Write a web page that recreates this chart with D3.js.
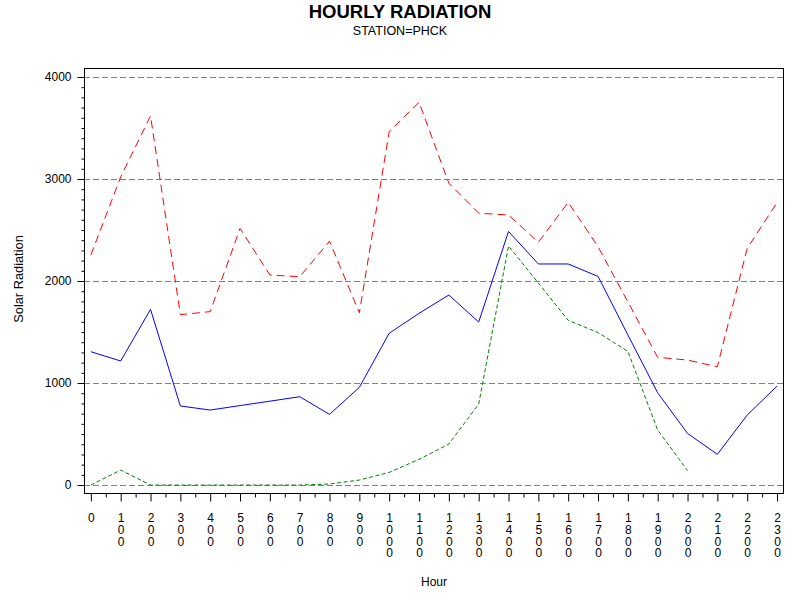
<!DOCTYPE html>
<html>
<head>
<meta charset="utf-8">
<script src="https://cdn.jsdelivr.net/npm/d3@7"></script>
<style>
  html, body { margin: 0; padding: 0; background: #ffffff; }
  svg { display: block; font-family: "Liberation Sans", Arial, Helvetica, sans-serif; }
</style>
</head>
<body>
<svg id="chart" width="800" height="600"></svg>
<script>
// ---- data ----
const hours = [0, 100, 200, 300, 400, 500, 600, 700, 800, 900, 1000, 1100,
               1200, 1300, 1400, 1500, 1600, 1700, 1800, 1900, 2000, 2100, 2200, 2300];
const maxRadiation  = [2255, 3020, 3618, 1670, 1700, 2516, 2059, 2042, 2390, 1688, 3464, 3752,
                       2958, 2665, 2647, 2380, 2771, 2337, 1795, 1252, 1225, 1160, 2320, 2768];
const meanRadiation = [1307, 1216, 1722, 775, 735, 779, 822, 866, 693, 958, 1488, 1683,
                       1863, 1598, 2486, 2167, 2167, 2045, 1472, 904, 506, 301, 686, 970];
const minRadiation  = [0, 147, 0, 0, 0, 0, 0, 0, 10, 49, 124, 252,
                       402, 794, 2343, 1980, 1615, 1495, 1310, 539, 141, null, null, null];
const yMajorTicks = [0, 1000, 2000, 3000, 4000];
const xTickLabels = hours.map(h => String(h));
const titleText = "HOURLY RADIATION";
const subtitleText = "STATION=PHCK";
const xLabel = "Hour";
const yLabel = "Solar Radiation";

// ---- layout ----
const svg = d3.select("#chart");
const L = 84, R = 783, T = 68, B = 493;

const x = d3.scaleLinear().domain([-23, 2320]).range([L, R]);
const y = d3.scaleLinear().domain([-78, 4088]).range([B, T]);

// titles
svg.append("text").attr("x", 400).attr("y", 17.5).attr("text-anchor", "middle")
  .attr("font-size", "18.5px").attr("font-weight", "bold").attr("fill", "#000")
  .text(titleText);
svg.append("text").attr("x", 400).attr("y", 35).attr("text-anchor", "middle")
  .attr("font-size", "12.5px").attr("fill", "#000")
  .text(subtitleText);

// grid lines
svg.append("g").selectAll("line").data(yMajorTicks).join("line")
  .attr("x1", L).attr("x2", R)
  .attr("y1", d => Math.round(y(d)) + 0.5).attr("y2", d => Math.round(y(d)) + 0.5)
  .attr("stroke", "#808080").attr("stroke-width", 1).attr("stroke-dasharray", "6,3");

// series lines
const lineGen = d3.line()
  .defined(d => d.v !== null)
  .x(d => x(d.h)).y(d => y(d.v));
const series = [
  { values: maxRadiation,  color: "#ff0000", dash: "8,5" },
  { values: meanRadiation, color: "#0000ff", dash: null },
  { values: minRadiation,  color: "#008000", dash: "4,2.5" }
];
const plotG = svg.append("g");
series.forEach(s => {
  const pts = hours.map((h, i) => ({ h: h, v: s.values[i] }));
  plotG.append("path").datum(pts)
    .attr("d", lineGen)
    .attr("fill", "none")
    .attr("stroke", s.color)
    .attr("stroke-width", 1)
    .attr("stroke-dasharray", s.dash);
});

// frame
svg.append("rect").attr("x", L + 0.5).attr("y", T + 0.5)
  .attr("width", R - L).attr("height", B - T)
  .attr("fill", "none").attr("stroke", "#000").attr("stroke-width", 1);

// y axis
const yMinor = d3.range(0, 4001, 100).filter(v => v % 1000 !== 0);
const yAxisMinor = d3.axisLeft(y).tickValues(yMinor).tickSize(3).tickFormat("");
const yAxis = d3.axisLeft(y).tickValues(yMajorTicks).tickSize(7).tickPadding(6).tickFormat(d3.format("d"));
const gyMinor = svg.append("g").attr("transform", `translate(${L + 0.5},0)`).call(yAxisMinor);
const gy = svg.append("g").attr("transform", `translate(${L + 0.5},0)`).call(yAxis);
[gyMinor, gy].forEach(g => {
  g.select(".domain").remove();
  g.selectAll("line").attr("stroke", "#000");
});
gy.selectAll("text").attr("font-size", "12px").attr("fill", "#000")
  .attr("font-family", "'Liberation Sans', Arial, sans-serif");

// x axis
const xMinor = d3.range(50, 2300, 100);
const xAxisMinor = d3.axisBottom(x).tickValues(xMinor).tickSize(4).tickFormat("");
const xAxis = d3.axisBottom(x).tickValues(hours).tickSize(8).tickFormat((d, i) => xTickLabels[i]);
const gxMinor = svg.append("g").attr("transform", `translate(0,${B + 0.5})`).call(xAxisMinor);
const gx = svg.append("g").attr("transform", `translate(0,${B + 0.5})`).call(xAxis);
[gxMinor, gx].forEach(g => {
  g.select(".domain").remove();
  g.selectAll("line").attr("stroke", "#000");
});
// stacked tick labels: one character per line
gx.selectAll("text").each(function() {
  const t = d3.select(this);
  const str = t.text();
  t.text(null).attr("y", 0).attr("dy", null)
    .attr("font-size", "12px").attr("fill", "#000")
    .attr("font-family", "'Liberation Sans', Arial, sans-serif");
  str.split("").forEach((ch, k) => {
    t.append("tspan").attr("x", 0).attr("y", 28.5 + k * 11.8).text(ch);
  });
});

// axis labels
svg.append("text").attr("x", 434).attr("y", 586).attr("text-anchor", "middle")
  .attr("font-size", "12px").attr("fill", "#000").text(xLabel);
svg.append("text").attr("transform", "translate(22.5,279) rotate(-90)")
  .attr("text-anchor", "middle").attr("font-size", "12.8px").attr("fill", "#000")
  .text(yLabel);
</script>
</body>
</html>
